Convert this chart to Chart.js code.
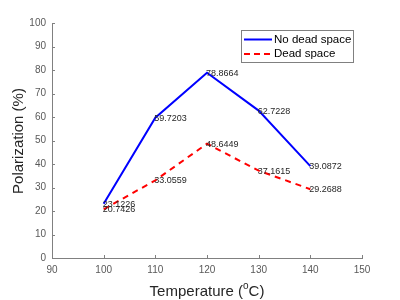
<!DOCTYPE html>
<html><head><meta charset="utf-8">
<script src="https://cdn.jsdelivr.net/npm/chart.js@4/dist/chart.umd.min.js"></script>
<style>html,body{margin:0;padding:0;background:#fff}#wrap{width:400px;height:300px}</style>
</head><body><div id="wrap"><canvas id="c" width="400" height="300"></canvas></div>
<script>
const temperatures = [100, 110, 120, 130, 140];
const noDeadSpace = [23.1226, 59.7203, 78.8664, 62.7228, 39.0872];
const deadSpace = [20.7426, 33.0559, 48.6449, 37.1615, 29.2688];
const seriesNames = ["No dead space", "Dead space"];
const xTicks = [90, 100, 110, 120, 130, 140, 150];
const yTicks = [0, 10, 20, 30, 40, 50, 60, 70, 80, 90, 100];

const FONT = "'Liberation Sans', Arial, sans-serif";
const axisColor = '#808080';

const overlay = {
  id: 'overlay',
  afterDatasetsDraw(chart) {
    const ctx = chart.ctx;
    const xs = chart.scales.x, ys = chart.scales.y;
    const area = chart.chartArea;
    ctx.save();
    // inward ticks
    ctx.strokeStyle = axisColor; ctx.lineWidth = 1;
    xTicks.forEach(v => {
      const px = Math.round(xs.getPixelForValue(v)) + 0.5;
      ctx.beginPath(); ctx.moveTo(px, area.bottom); ctx.lineTo(px, area.bottom - 3); ctx.stroke();
    });
    yTicks.forEach(v => {
      const py = Math.round(ys.getPixelForValue(v)) + 0.5;
      ctx.beginPath(); ctx.moveTo(area.left, py); ctx.lineTo(area.left + 3, py); ctx.stroke();
    });
    // data labels
    ctx.fillStyle = '#262626';
    ctx.font = '9px ' + FONT;
    ctx.textAlign = 'left'; ctx.textBaseline = 'middle';
    chart.data.datasets.forEach((ds, di) => {
      const meta = chart.getDatasetMeta(di);
      meta.data.forEach((pt, i) => {
        ctx.fillText(ds.data[i].y.toFixed(4), pt.x - 1, pt.y + 0.5);
      });
    });
    // legend
    const lx = 241, ly = 30, lw = 112, lh = 32;
    ctx.fillStyle = '#fff';
    ctx.fillRect(lx, ly, lw, lh);
    ctx.strokeStyle = '#808080'; ctx.lineWidth = 1;
    ctx.strokeRect(lx + 0.5, ly + 0.5, lw, lh);
    const rows = [
      {c: 'rgb(0,0,255)', dash: [], y: ly + 9.5, t: seriesNames[0]},
      {c: 'rgb(255,0,0)', dash: [6, 4], y: ly + 24, t: seriesNames[1]}
    ];
    ctx.font = '11.5px ' + FONT;
    rows.forEach(r => {
      ctx.strokeStyle = r.c; ctx.lineWidth = 2; ctx.setLineDash(r.dash);
      ctx.beginPath(); ctx.moveTo(lx + 3, r.y); ctx.lineTo(lx + 31, r.y); ctx.stroke();
      ctx.setLineDash([]);
      ctx.fillStyle = '#000'; ctx.textBaseline = 'middle'; ctx.textAlign = 'left';
      ctx.fillText(r.t, lx + 33, r.y);
    });
    // axis titles
    ctx.fillStyle = '#262626';
    ctx.font = '15px ' + FONT;
    ctx.save();
    ctx.translate(19, (area.top + area.bottom) / 2 + 0.5);
    ctx.rotate(-Math.PI / 2);
    ctx.textAlign = 'center'; ctx.textBaseline = 'middle';
    ctx.fillText('Polarization (%)', 0, 0);
    ctx.restore();
    // x title with superscript
    const p1 = 'Temperature (', sup = 'o', p2 = 'C)';
    ctx.font = '15px ' + FONT;
    const w1 = ctx.measureText(p1).width, w3 = ctx.measureText(p2).width;
    ctx.font = '10px ' + FONT;
    const w2 = ctx.measureText(sup).width;
    const total = w1 + w2 + w3;
    let sx = (area.left + area.right) / 2 - total / 2;
    const by = 296;
    ctx.textAlign = 'left'; ctx.textBaseline = 'alphabetic';
    ctx.font = '15px ' + FONT; ctx.fillText(p1, sx, by); sx += w1;
    ctx.font = '10px ' + FONT; ctx.fillText(sup, sx, by - 7); sx += w2;
    ctx.font = '15px ' + FONT; ctx.fillText(p2, sx, by);
    ctx.restore();
  }
};

const toPts = arr => temperatures.map((t, i) => ({x: t, y: arr[i]}));

new Chart(document.getElementById('c'), {
  type: 'line',
  data: {
    datasets: [
      {label: seriesNames[0], data: toPts(noDeadSpace), borderColor: 'rgb(0,0,255)', borderWidth: 2, pointRadius: 0, tension: 0, fill: false},
      {label: seriesNames[1], data: toPts(deadSpace), borderColor: 'rgb(255,0,0)', borderWidth: 2, borderDash: [6, 5], pointRadius: 0, tension: 0, fill: false}
    ]
  },
  options: {
    responsive: false, animation: false, devicePixelRatio: 1,
    layout: {padding: {left: 0, right: 38, top: 23, bottom: 0}},
    plugins: {legend: {display: false}, tooltip: {enabled: false}},
    scales: {
      x: {
        type: 'linear', min: 90, max: 150,
        afterBuildTicks: s => { s.ticks = xTicks.map(v => ({value: v})); },
        afterFit: s => { s.height = 42; },
        grid: {display: true, drawOnChartArea: false, drawTicks: false},
        border: {display: true, color: axisColor, width: 1},
        ticks: {color: '#595959', font: {family: FONT, size: 10}, padding: 6, maxRotation: 0}
      },
      y: {
        type: 'linear', min: 0, max: 100,
        afterBuildTicks: s => { s.ticks = yTicks.map(v => ({value: v})); },
        afterFit: s => { s.width = 52; },
        grid: {display: true, drawOnChartArea: false, drawTicks: false},
        border: {display: true, color: axisColor, width: 1},
        ticks: {color: '#595959', font: {family: FONT, size: 10}, padding: 6}
      }
    }
  },
  plugins: [overlay]
});
</script></body></html>
